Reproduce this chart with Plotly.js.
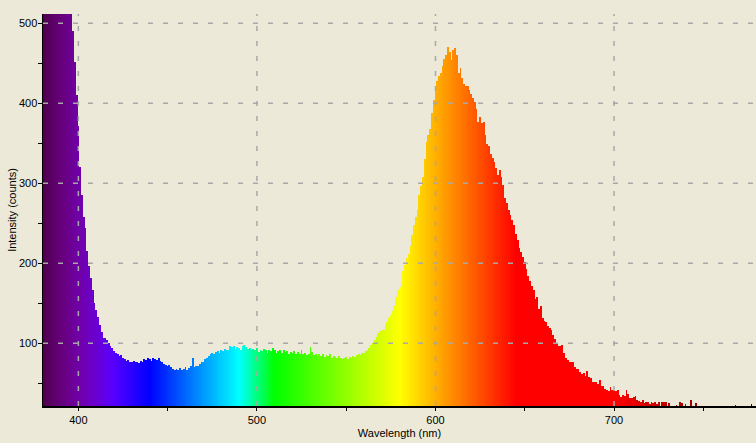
<!DOCTYPE html>
<html>
<head>
<meta charset="utf-8">
<script src="https://cdn.plot.ly/plotly-3.0.1.min.js"></script>
<style>
  html, body { margin: 0; padding: 0; background: #ECE9D8; }
  #chart { width: 756px; height: 443px; }
</style>
</head>
<body>
<div id="chart"></div>
<script>
// Wavelength axis: first sample and step (nm)
const startNm = 380;
const stepNm = 1;

// Intensity (counts), one value per nm from 380 to 780
const intensity = [
  // 380-389
  980, 960, 940, 910, 880, 850, 820, 790, 760, 730,
  // 390-399
  700, 670, 640, 610, 580, 550, 520, 490, 452, 410,
  // 400-409
  372, 320, 285, 258, 244, 215, 196, 182, 166, 150,
  // 410-419
  142, 133, 123, 114, 106, 107, 104, 100, 97, 94,
  // 420-429
  90, 88, 86, 84, 85, 82, 80, 78, 79, 77,
  // 430-439
  76, 78, 77, 76, 75, 78, 76, 80, 79, 81,
  // 440-449
  80, 78, 81, 80, 79, 82, 78, 76, 74, 73,
  // 450-459
  72, 73, 70, 68, 67, 68, 67, 69, 67, 68,
  // 460-469
  70, 67, 69, 72, 82, 70, 72, 72, 74, 76,
  // 470-479
  77, 80, 81, 84, 86, 88, 87, 89, 90, 88,
  // 480-489
  91, 90, 93, 91, 92, 96, 95, 97, 93, 95,
  // 490-499
  94, 92, 96, 98, 95, 93, 94, 92, 93, 91,
  // 500-509
  94, 89, 92, 90, 93, 91, 88, 92, 90, 94,
  // 510-519
  91, 88, 90, 92, 88, 91, 89, 90, 87, 89,
  // 520-529
  88, 90, 86, 89, 87, 92, 86, 88, 85, 87,
  // 530-539
  95, 89, 85, 87, 84, 86, 84, 86, 83, 85,
  // 540-549
  84, 86, 82, 84, 83, 81, 84, 82, 80, 82,
  // 550-559
  83, 80, 83, 82, 84, 83, 85, 86, 85, 88,
  // 560-569
  88, 90, 92, 94, 98, 100, 104, 108, 113, 115,
  // 570-579
  117, 117, 123, 126, 132, 135, 140, 146, 158, 166,
  // 580-589
  170, 176, 190, 198, 206, 212, 222, 235, 248, 258,
  // 590-599
  266, 285, 296, 308, 330, 352, 360, 368, 388, 404,
  // 600-609
  418, 428, 434, 438, 447, 455, 460, 470, 464, 454,
  // 610-619
  467, 469, 460, 438, 444, 431, 424, 422, 421, 417,
  // 620-629
  411, 406, 402, 393, 376, 383, 375, 376, 360, 349,
  // 630-639
  347, 337, 331, 326, 319, 310, 316, 308, 298, 282,
  // 640-649
  275, 267, 260, 254, 248, 237, 229, 219, 214, 208,
  // 650-659
  202, 193, 184, 178, 172, 166, 155, 158, 143, 146,
  // 660-669
  131, 128, 127, 121, 119, 116, 110, 105, 100, 97,
  // 670-679
  96, 98, 88, 81, 79, 77, 77, 76, 70, 68,
  // 680-689
  68, 64, 61, 63, 59, 65, 58, 56, 51, 52,
  // 690-699
  51, 49, 54, 47, 46, 43, 42, 40, 45, 41,
  // 700-709
  42, 40, 41, 35, 33, 35, 34, 41, 37, 31,
  // 710-719
  32, 33, 34, 29, 28, 27, 29, 25, 26, 27,
  // 720-729
  24, 27, 25, 27, 24, 26, 22, 27, 26, 27,
  // 730-739
  21, 25, 20, 21, 19, 23, 20, 27, 25, 21,
  // 740-749
  24, 20, 19, 29, 20, 19, 25, 20, 18, 19,
  // 750-759
  18, 17, 19, 16, 18, 17, 16, 18, 15, 17,
  // 760-769
  16, 15, 17, 14, 16, 15, 17, 16, 23, 15,
  // 770-779
  14, 16, 13, 15, 14, 13, 15, 24, 14, 13,
  // 780
  12
];

// Axis ticks / grid positions
const xTickVals = [400, 500, 600, 700];
const xTickText = ["400", "500", "600", "700"];
const yTickVals = [100, 200, 300, 400, 500];
const yTickText = ["100", "200", "300", "400", "500"];

const wavelengths = intensity.map((_, i) => startNm + i * stepNm);

// Visible-spectrum colour for a wavelength (styling only)
function wavelengthColor(w) {
  let r = 0, g = 0, b = 0;
  if (w < 440) { r = -(w - 440) / 60; b = 1; }
  else if (w < 490) { g = (w - 440) / 50; b = 1; }
  else if (w < 510) { g = 1; b = -(w - 510) / 20; }
  else if (w < 580) { r = (w - 510) / 70; g = 1; }
  else if (w < 645) { r = 1; g = -(w - 645) / 65; }
  else { r = 1; }
  let f = 1;
  if (w < 420) f = 0.3 + 0.7 * (w - 380) / 40;
  else if (w > 700) f = 0.3 + 0.7 * (780 - w) / 80;
  const c = v => Math.max(0, Math.min(255, Math.round(v * f * 255)));
  return `rgb(${c(r)},${c(g)},${c(b)})`;
}
const barColors = wavelengths.map(wavelengthColor);

const gridLine = { color: '#a8a8a8', width: 1.5, dash: '5px,10px' };
const shapes = [];
xTickVals.forEach(v => shapes.push({
  type: 'line', layer: 'above', xref: 'x', yref: 'paper',
  x0: v, x1: v, y0: 0, y1: 1, line: gridLine
}));
yTickVals.forEach(v => shapes.push({
  type: 'line', layer: 'above', xref: 'paper', yref: 'y',
  x0: 0, x1: 1, y0: v, y1: v, line: gridLine
}));

const trace = {
  type: 'bar',
  x: wavelengths,
  y: intensity,
  width: stepNm * 1.04,
  marker: { color: barColors, line: { width: 0 } },
  hoverinfo: 'skip'
};

const font = { family: 'Liberation Sans, Arial, sans-serif', size: 11, color: '#000' };

const layout = {
  width: 756,
  height: 443,
  margin: { l: 43, r: 0, t: 14, b: 37, pad: 0 },
  paper_bgcolor: '#ECE9D8',
  plot_bgcolor: '#ECE9D8',
  font: font,
  bargap: 0,
  showlegend: false,
  shapes: shapes,
  xaxis: {
    range: [380.2, 779.5],
    tickmode: 'array', tickvals: xTickVals, ticktext: xTickText,
    ticks: 'outside', ticklen: 3, tickcolor: '#000', tickwidth: 1,
    minor: { tickmode: 'linear', tick0: 350, dtick: 50, ticks: 'outside', ticklen: 3, tickcolor: '#000', showgrid: false },
    showgrid: false, zeroline: false,
    showline: true, linecolor: '#000', linewidth: 1.5,
    tickfont: font,
    title: { text: 'Wavelength (nm)', font: font, standoff: 4 },
    fixedrange: true
  },
  yaxis: {
    range: [21.6, 511.6],
    tickmode: 'array', tickvals: yTickVals, ticktext: yTickText,
    ticks: 'outside', ticklen: 4, tickcolor: '#000', tickwidth: 1,
    ticklabelstandoff: -2,
    minor: { tickmode: 'linear', tick0: 0, dtick: 50, ticks: 'outside', ticklen: 4, tickcolor: '#000', showgrid: false },
    showgrid: false, zeroline: false,
    showline: true, linecolor: '#000', linewidth: 1.5,
    tickfont: font,
    title: { text: 'Intensity (counts)', font: font, standoff: 0 },
    fixedrange: true
  }
};

Plotly.newPlot('chart', [trace], layout, { displayModeBar: false, staticPlot: true });
</script>
</body>
</html>
